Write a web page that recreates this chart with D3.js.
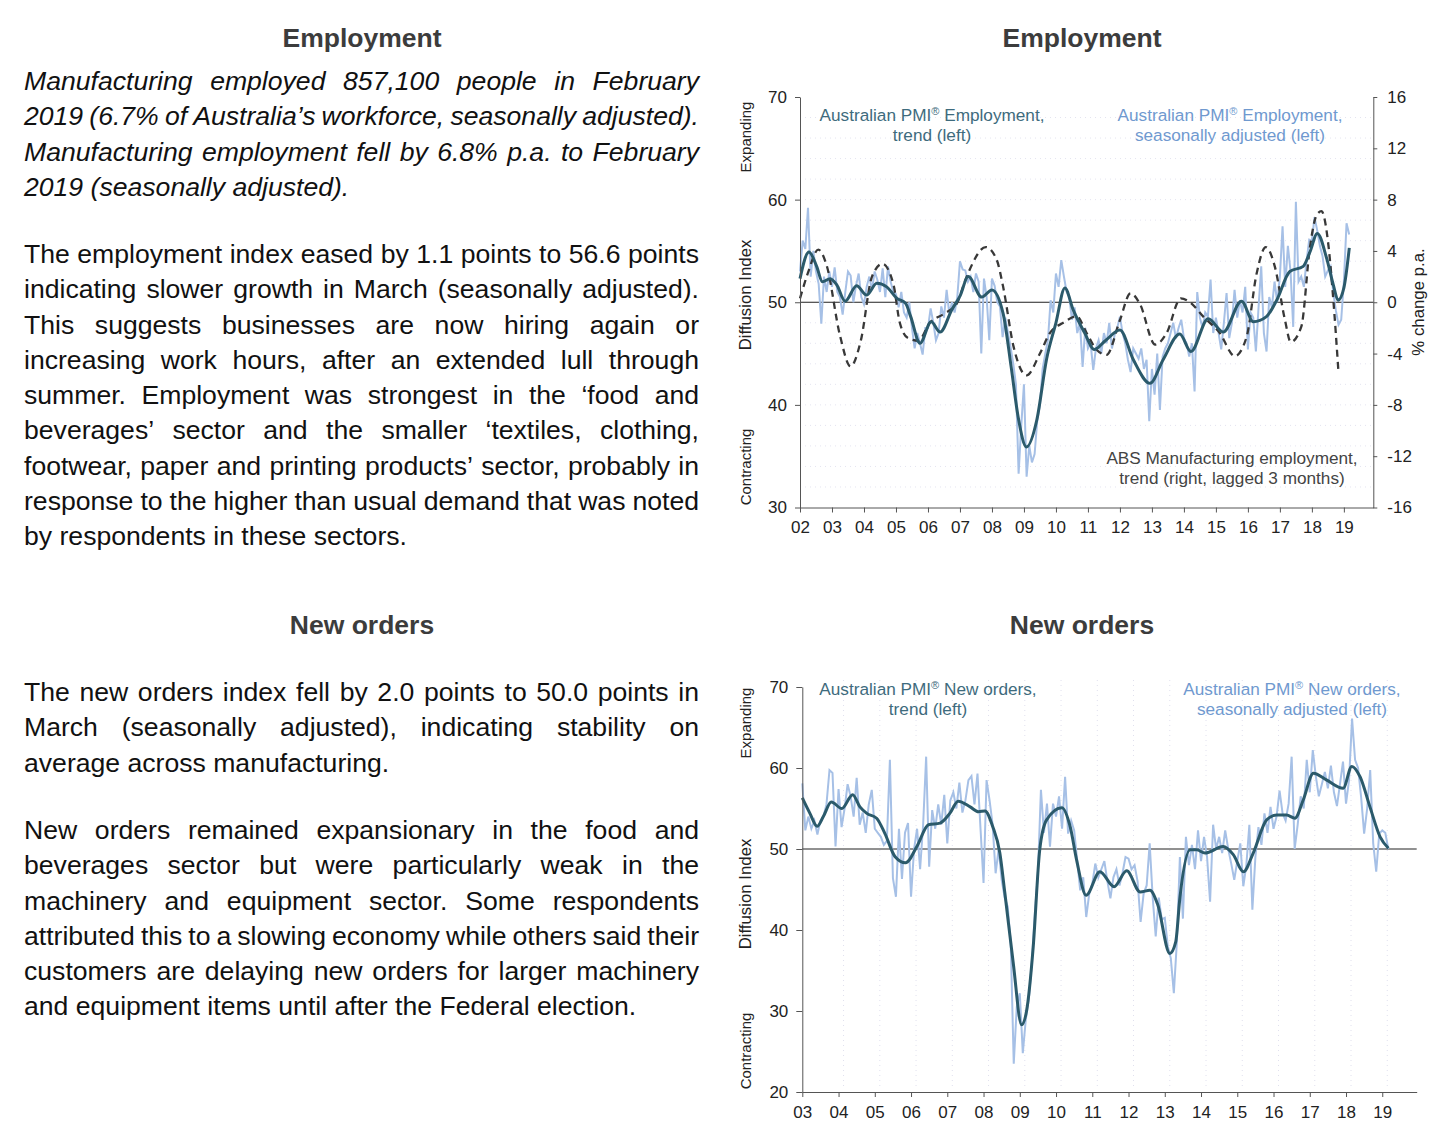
<!DOCTYPE html>
<html>
<head>
<meta charset="utf-8">
<script src="https://cdn.jsdelivr.net/npm/d3@7"></script>
<style>
body { margin: 0; background: #fff; }
text { font-family: 'Liberation Sans', Arial, sans-serif; }
</style>
</head>
<body>
<svg id="page" width="1443" height="1135"></svg>
<script>
// ---- data ----
// employment, seasonally adjusted, monthly from Jan 2002 to Mar 2019
var empSA = [
  53.0, 56.0, 55.2, 59.2, 52.5, 55.0, 53.0, 51.8, 47.9, 52.5, 51.0, 53.0,
  51.5, 53.4, 51.0, 50.5, 48.8, 51.0, 53.0, 52.6, 50.0, 51.6, 52.8, 50.5,
  49.8, 51.5, 52.5, 51.2, 53.0, 52.2, 51.0, 53.3, 50.5, 53.5, 52.0, 51.0,
  50.8, 49.5, 51.0, 49.0, 48.5, 50.0, 47.5, 45.5, 47.0, 46.0, 44.9, 47.5,
  47.5, 49.4, 48.0, 46.3, 47.0, 49.6, 48.5, 51.2, 48.9, 50.0, 49.0, 50.5,
  54.0, 53.2, 53.1, 52.0, 52.5, 51.0, 52.8, 52.0, 45.0, 52.3, 50.5, 46.3,
  52.3, 51.6, 50.0, 49.6, 46.6, 48.5, 47.0, 45.6, 44.0, 42.0, 33.3, 38.0,
  42.0, 33.0, 36.0, 34.4, 35.2, 38.5, 40.0, 43.5, 45.0, 46.3, 50.2, 49.0,
  52.8, 51.5, 54.1, 52.5, 51.0, 50.5, 48.3, 49.5, 47.0, 48.0, 43.7, 47.5,
  45.5, 46.0, 43.4, 45.5, 46.3, 45.0, 47.0, 46.0, 48.0, 45.5, 46.8, 47.5,
  48.6, 47.0, 46.0, 44.4, 43.2, 45.5, 45.0, 44.5, 45.5, 43.5, 44.4, 38.4,
  43.5, 41.0, 45.0, 39.5, 44.7, 45.5, 46.0, 47.0, 48.0, 46.5, 47.5, 48.3,
  46.5, 46.0, 44.7, 46.0, 41.3, 51.0, 48.5, 47.5, 49.0, 48.6, 52.2, 47.0,
  48.5, 47.0, 45.4, 48.0, 50.9, 46.5, 48.0, 51.2, 48.5, 50.2, 49.0, 51.5,
  45.4, 49.0, 48.5, 45.2, 49.5, 53.5, 47.0, 45.2, 50.5, 49.5, 52.0, 50.0,
  52.5, 57.4, 51.5, 55.5, 53.0, 47.6, 59.8, 52.0, 52.5, 51.5, 54.0, 56.1,
  56.0, 58.3, 57.0, 55.5, 54.5, 52.5, 53.1, 53.5, 51.0, 49.2, 47.8, 48.3,
  52.0, 57.7, 56.6
];
var empSAStart = 2002;

// employment trend, [year, index]
var empTrend = [
  [2002.0, 52.3], [2002.28, 54.9], [2002.52, 53.5], [2002.7, 52.0], [2002.94, 52.3],
  [2003.15, 51.7], [2003.41, 50.1], [2003.77, 51.6], [2004.08, 50.7], [2004.4, 51.85],
  [2004.71, 51.5], [2005.02, 50.4], [2005.3, 49.9], [2005.46, 48.6], [2005.75, 46.0],
  [2006.1, 48.1], [2006.38, 47.1], [2006.75, 49.3], [2007.0, 50.6], [2007.26, 52.5],
  [2007.68, 50.5], [2008.0, 51.2], [2008.35, 48.9], [2008.6, 43.7], [2008.82, 38.8],
  [2009.08, 35.9], [2009.4, 38.5], [2009.71, 44.5], [2010.0, 48.0], [2010.28, 51.4],
  [2010.54, 49.25], [2010.9, 47.0], [2011.2, 45.4], [2011.56, 46.3], [2012.0, 47.3],
  [2012.42, 44.4], [2012.94, 42.1], [2013.35, 44.4], [2013.87, 46.9], [2014.22, 45.2],
  [2014.76, 48.4], [2015.23, 47.1], [2015.8, 50.1], [2016.17, 48.1], [2016.58, 48.6],
  [2016.9, 50.2], [2017.31, 53.0], [2017.73, 53.5], [2017.94, 54.9], [2018.17, 56.7],
  [2018.46, 54.3], [2018.67, 51.7], [2018.82, 50.2], [2019.0, 51.4], [2019.17, 55.3]
];

// ABS manufacturing employment trend, % change p.a., lagged 3 months, [year, %]
var absEmp = [
  [2002.0, 0.3], [2002.25, 2.3], [2002.57, 4.1], [2002.83, 2.9], [2003.25, -2.6],
  [2003.58, -5.0], [2003.9, -3.0], [2004.25, 2.0], [2004.58, 3.0], [2004.92, 1.4],
  [2005.12, -1.6], [2005.38, -2.8], [2005.7, -3.0], [2006.06, -1.6], [2006.5, -0.9],
  [2006.9, -0.1], [2007.21, 2.0], [2007.81, 4.3], [2008.15, 3.3], [2008.35, 1.2],
  [2008.67, -3.4], [2009.08, -5.7], [2009.5, -4.0], [2009.81, -2.4], [2010.23, -1.6],
  [2010.65, -1.1], [2010.96, -2.4], [2011.27, -3.7], [2011.58, -4.1], [2012.0, -1.4],
  [2012.33, 0.7], [2012.62, -0.1], [2013.1, -3.3], [2013.46, -2.4], [2013.9, 0.3],
  [2014.19, 0.0], [2014.6, -1.1], [2015.12, -2.4], [2015.59, -4.2], [2015.96, -2.7],
  [2016.27, 2.2], [2016.56, 4.3], [2016.84, 2.8], [2017.16, -1.4], [2017.34, -3.1],
  [2017.67, -1.9], [2017.94, 4.3], [2018.15, 6.8], [2018.3, 7.1], [2018.51, 4.6],
  [2018.67, 0.2], [2018.83, -5.4]
];

// new orders, seasonally adjusted, monthly from Jan 2003 to Mar 2019
var ordSA = [
  58.1, 52.3, 54.0, 52.5, 53.5, 51.8, 53.5, 54.0, 55.5, 59.75, 59.4, 50.3,
  57.4, 52.7, 55.0, 58.0, 56.5, 54.0, 58.8, 53.0, 54.5, 52.0, 55.5, 57.3,
  52.5, 52.0, 51.5, 50.5, 51.0, 61.0, 46.4, 44.1, 52.5, 46.3, 52.0, 53.2,
  44.1, 50.0, 52.5, 47.5, 53.0, 61.4, 47.8, 54.8, 52.5, 55.5, 53.0, 56.7,
  50.7, 56.0, 57.0, 55.0, 58.2, 54.5, 56.0, 58.5, 59.0, 55.5, 59.3, 52.5,
  45.8, 58.5, 56.0, 53.0, 47.0, 50.0, 46.2, 44.0, 42.9, 38.4, 23.5, 30.5,
  32.2, 24.8, 29.0, 31.5, 36.0, 42.1, 47.0, 57.3, 52.0, 55.6, 50.3, 55.6,
  54.0, 56.5, 52.5, 58.9, 51.9, 53.5, 52.3, 48.6, 44.9, 46.5, 41.6, 44.5,
  45.7, 48.2, 46.5, 47.5, 48.5, 46.0, 43.9, 46.5, 47.5, 45.5, 47.0, 49.0,
  48.8, 47.5, 48.0, 46.0, 41.0, 44.5, 45.5, 50.7, 44.0, 39.2, 44.0, 41.3,
  41.5, 38.0, 36.5, 32.2, 38.5, 49.0, 41.4, 51.5, 48.0, 50.5, 47.5, 52.3,
  48.5, 51.5, 49.0, 43.5, 53.0, 50.0, 51.5, 49.5, 52.3, 50.0, 48.2, 46.2,
  48.5, 50.7, 45.4, 48.0, 53.0, 42.5, 49.0, 52.7, 50.5, 54.4, 52.0, 55.2,
  52.5, 54.0, 57.2, 54.4, 53.5, 55.6, 61.4, 50.0, 53.0, 56.5, 55.0, 61.0,
  57.0, 62.2, 59.0, 56.5, 58.0, 59.5, 57.5, 60.3, 57.0, 55.3, 58.0, 60.8,
  55.6, 58.5, 66.1, 61.0, 60.0, 56.4, 51.9, 55.0, 59.75, 50.7, 47.2, 51.9,
  52.3, 52.0, 50.0
];
var ordSAStart = 2003;

// new orders trend, [year, index]
var ordTrend = [
  [2003.0, 56.3], [2003.21, 54.4], [2003.41, 52.8], [2003.58, 54.0], [2003.8, 55.8],
  [2004.09, 55.0], [2004.39, 56.7], [2004.59, 55.2], [2004.78, 54.4], [2005.05, 53.8],
  [2005.28, 51.9], [2005.56, 49.05], [2005.85, 48.3], [2006.16, 50.3], [2006.48, 53.0],
  [2006.8, 53.2], [2007.07, 54.4], [2007.3, 55.9], [2007.63, 55.2], [2007.86, 54.6],
  [2008.04, 54.7], [2008.25, 52.8], [2008.45, 49.5], [2008.59, 44.5], [2008.82, 35.9],
  [2009.05, 28.3], [2009.19, 30.1], [2009.37, 37.9], [2009.55, 49.9], [2009.74, 53.6],
  [2010.16, 55.1], [2010.39, 52.75], [2010.57, 48.6], [2010.83, 44.3], [2011.21, 47.2],
  [2011.6, 45.35], [2011.95, 47.3], [2012.32, 44.7], [2012.59, 44.9], [2012.8, 43.2],
  [2013.14, 37.1], [2013.3, 38.5], [2013.42, 44.1], [2013.7, 49.9], [2013.88, 49.9],
  [2014.11, 49.5], [2014.61, 50.3], [2014.89, 49.3], [2015.17, 47.2], [2015.44, 49.5],
  [2015.81, 53.6], [2016.09, 54.2], [2016.36, 54.2], [2016.59, 53.8], [2016.82, 56.05],
  [2017.1, 59.35], [2017.47, 58.5], [2017.92, 57.5], [2018.16, 60.2], [2018.39, 58.9],
  [2018.66, 55.2], [2018.94, 51.5], [2019.17, 50.1]
];

var empYears = d3.range(2002, 2020);
var ordYears = d3.range(2003, 2020);
var empLeftTicks = [30, 40, 50, 60, 70];
var empRightTicks = [-16, -12, -8, -4, 0, 4, 8, 12, 16];
var ordLeftTicks = [20, 30, 40, 50, 60, 70];

// ---- text ----
var para1 = [
  "Manufacturing employed 857,100 people in February",
  "2019 (6.7% of Australia\u2019s workforce, seasonally adjusted).",
  "Manufacturing employment fell by 6.8% p.a. to February",
  "2019 (seasonally adjusted)."
];
var para2 = [
  "The employment index eased by 1.1 points to 56.6 points",
  "indicating slower growth in March (seasonally adjusted).",
  "This suggests businesses are now hiring again or",
  "increasing work hours, after an extended lull through",
  "summer. Employment was strongest in the \u2018food and",
  "beverages\u2019 sector and the smaller \u2018textiles, clothing,",
  "footwear, paper and printing products\u2019 sector, probably in",
  "response to the higher than usual demand that was noted",
  "by respondents in these sectors."
];
var para3 = [
  "The new orders index fell by 2.0 points to 50.0 points in",
  "March (seasonally adjusted), indicating stability on",
  "average across manufacturing."
];
var para4 = [
  "New orders remained expansionary in the food and",
  "beverages sector but were particularly weak in the",
  "machinery and equipment sector. Some respondents",
  "attributed this to a slowing economy while others said their",
  "customers are delaying new orders for larger machinery",
  "and equipment items until after the Federal election."
];

var svg = d3.select("#page");
var trendCol = "#2b5a6b", saCol = "#a6c0e6", absCol = "#383838";

// headings
function heading(txt, x, y) {
  svg.append("text")
    .attr("x", x).attr("y", y)
    .attr("text-anchor", "middle")
    .attr("font-size", "26.5px")
    .attr("font-weight", "bold")
    .style("fill", "#3c3c3c")
    .text(txt);
}
heading("Employment", 362, 47);
heading("New orders", 362, 634);
heading("Employment", 1082, 47);
heading("New orders", 1082, 634);

// justified paragraphs
function paragraph(lines, y0, italic) {
  var x0 = 24, x1 = 699, lh = 35.25, fs = 26.6;
  lines.forEach(function(ln, i) {
    var words = ln.split(" ");
    var g = svg.append("g");
    var nodes = words.map(function(w) {
      return g.append("text")
        .attr("y", y0 + i * lh)
        .attr("font-size", fs + "px")
        .attr("font-style", italic ? "italic" : null)
        .style("fill", "#111")
        .text(w);
    });
    var widths = nodes.map(function(n) { return n.node().getComputedTextLength(); });
    var last = i === lines.length - 1;
    var gap = last ? fs * 0.278 : (x1 - x0 - d3.sum(widths)) / (words.length - 1);
    var x = x0;
    nodes.forEach(function(n, k) { n.attr("x", x); x += widths[k] + gap; });
  });
}
paragraph(para1, 90, true);
paragraph(para2, 263, false);
paragraph(para3, 701, false);
paragraph(para4, 839, false);

function label(lines, x, y, col, fs) {
  lines.forEach(function(ln, i) {
    var t = svg.append("text")
      .attr("x", x).attr("y", y + i * 20)
      .attr("text-anchor", "middle")
      .attr("font-size", fs + "px")
      .style("fill", col);
    var parts = ln.split("\u00AE");
    t.append("tspan").text(parts[0]);
    if (parts.length > 1) {
      t.append("tspan").attr("font-size", "11px").attr("dy", -6).text("\u00AE");
      t.append("tspan").attr("dy", 6).text(parts[1]);
    }
  });
}

function sideLabel(txt, x, y, fs) {
  svg.append("text")
    .attr("transform", "translate(" + x + "," + y + ") rotate(-90)")
    .attr("text-anchor", "middle")
    .attr("font-size", fs + "px")
    .style("fill", "#222")
    .text(txt);
}

function styleAxis(g) {
  g.selectAll("path, line").attr("stroke", "#555");
  g.selectAll("text").attr("font-size", "17px").style("fill", "#222")
    .style("font-family", "'Liberation Sans', Arial, sans-serif");
}

// ---- chart 1: employment ----
var x1 = d3.scaleLinear().domain([2002, 2019.92]).range([800, 1373.3]);
var yL1 = d3.scaleLinear().domain([30, 70]).range([507.5, 97]);
var yR1 = d3.scaleLinear().domain([-16, 16]).range([507.5, 97]);

var c1 = svg.append("g");
c1.selectAll(".grid").data(d3.range(32, 70, 2).filter(function(v) { return v !== 50; }))
  .enter().append("line")
    .attr("x1", 800).attr("x2", 1373)
    .attr("y1", function(d) { return yL1(d); })
    .attr("y2", function(d) { return yL1(d); })
    .attr("stroke", "#e4e4f0")
    .attr("stroke-dasharray", "1,4");

c1.append("line")
  .attr("x1", 800).attr("x2", 1373.3)
  .attr("y1", yL1(50)).attr("y2", yL1(50))
  .attr("stroke", "#222").attr("stroke-width", 1);

var lineSA1 = d3.line()
  .x(function(d, i) { return x1(empSAStart + i / 12); })
  .y(function(d) { return yL1(d); });
c1.append("path").datum(empSA)
  .attr("d", lineSA1)
  .attr("fill", "none").attr("stroke", saCol).attr("stroke-width", 2);

var lineAbs = d3.line().curve(d3.curveMonotoneX)
  .x(function(d) { return x1(d[0]); })
  .y(function(d) { return yR1(d[1]); });
c1.append("path").datum(absEmp)
  .attr("d", lineAbs)
  .attr("fill", "none").attr("stroke", absCol).attr("stroke-width", 2.3)
  .attr("stroke-dasharray", "7,5");

var lineTr1 = d3.line().curve(d3.curveMonotoneX)
  .x(function(d) { return x1(d[0]); })
  .y(function(d) { return yL1(d[1]); });
c1.append("path").datum(empTrend)
  .attr("d", lineTr1)
  .attr("fill", "none").attr("stroke", trendCol).attr("stroke-width", 3);

c1.append("g").attr("transform", "translate(800,0)")
  .call(d3.axisLeft(yL1).tickValues(empLeftTicks).tickSize(5).tickSizeOuter(0).tickPadding(8))
  .call(styleAxis);
c1.append("g").attr("transform", "translate(1373.3,0)")
  .call(d3.axisRight(yR1).tickValues(empRightTicks).tickSize(4).tickSizeOuter(0).tickPadding(10)
    .tickFormat(function(d) { return String(d); }))
  .call(styleAxis);
c1.append("g").attr("transform", "translate(0,507.5)")
  .call(d3.axisBottom(x1).tickValues(empYears).tickSize(5).tickSizeOuter(0).tickPadding(8)
    .tickFormat(function(d) { return String(d % 100).padStart(2, "0"); }))
  .call(styleAxis);

sideLabel("Expanding", 751, 137, 15);
sideLabel("Diffusion Index", 751, 295, 16.8);
sideLabel("Contracting", 751, 467, 15);
sideLabel("% change p.a.", 1424, 302, 16.8);

label(["Australian PMI\u00AE Employment,", "trend (left)"], 932, 121, "#3e6b7d", 17.2);
label(["Australian PMI\u00AE Employment,", "seasonally adjusted (left)"], 1230, 121, "#6f99cf", 17.2);
label(["ABS Manufacturing employment,", "trend (right, lagged 3 months)"], 1232, 464, "#444", 17.2);

// ---- chart 2: new orders ----
var x2 = d3.scaleLinear().domain([2003, 2019.95]).range([802.3, 1416.7]);
var y2 = d3.scaleLinear().domain([20, 70]).range([1092, 687]);

var c2 = svg.append("g");
c2.selectAll(".vgrid").data(ordYears.slice(1))
  .enter().append("line")
    .attr("x1", function(d) { return x2(d) + 5; })
    .attr("x2", function(d) { return x2(d) + 5; })
    .attr("y1", 680).attr("y2", 1090)
    .attr("stroke", "#e0e0ee")
    .attr("stroke-dasharray", "1,4");

c2.append("line")
  .attr("x1", 802.3).attr("x2", 1416.7)
  .attr("y1", y2(50)).attr("y2", y2(50))
  .attr("stroke", "#222").attr("stroke-width", 1);

var lineSA2 = d3.line()
  .x(function(d, i) { return x2(ordSAStart + i / 12); })
  .y(function(d) { return y2(d); });
c2.append("path").datum(ordSA)
  .attr("d", lineSA2)
  .attr("fill", "none").attr("stroke", saCol).attr("stroke-width", 2);

var lineTr2 = d3.line().curve(d3.curveMonotoneX)
  .x(function(d) { return x2(d[0]); })
  .y(function(d) { return y2(d[1]); });
c2.append("path").datum(ordTrend)
  .attr("d", lineTr2)
  .attr("fill", "none").attr("stroke", trendCol).attr("stroke-width", 3);

c2.append("g").attr("transform", "translate(802.3,0)")
  .call(d3.axisLeft(y2).tickValues(ordLeftTicks).tickSize(6).tickSizeOuter(0).tickPadding(8))
  .call(styleAxis);
c2.append("g").attr("transform", "translate(0,1092)")
  .call(d3.axisBottom(x2).tickValues(ordYears).tickSize(5).tickSizeOuter(0).tickPadding(9)
    .tickFormat(function(d) { return String(d % 100).padStart(2, "0"); }))
  .call(styleAxis);

sideLabel("Expanding", 751, 723, 15);
sideLabel("Diffusion Index", 751, 894, 16.8);
sideLabel("Contracting", 751, 1051, 15);

label(["Australian PMI\u00AE New orders,", "trend (left)"], 928, 695, "#3e6b7d", 17.2);
label(["Australian PMI\u00AE New orders,", "seasonally adjusted (left)"], 1292, 695, "#6f99cf", 17.2);
</script>
</body>
</html>
